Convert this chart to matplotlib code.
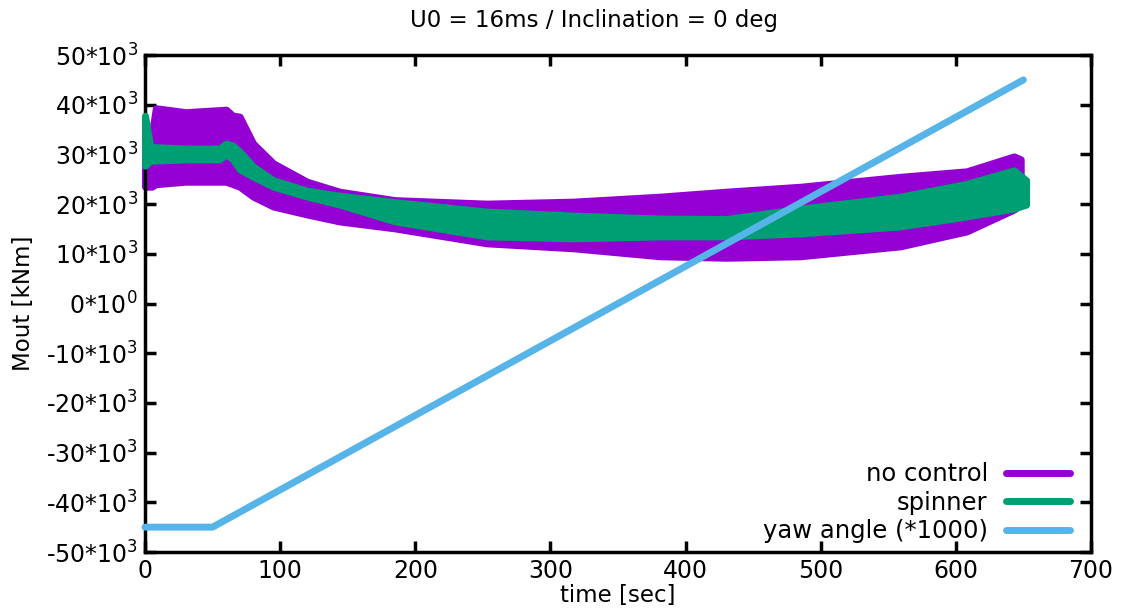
import matplotlib
matplotlib.use("Agg")
import matplotlib.pyplot as plt
import numpy as np

# ==========================================
# DATA (bands given as upper/lower envelopes, kNm/1000)
# ==========================================
t_nc = [0, 5, 8, 30, 60, 65, 70, 80, 95, 120, 144, 185, 253, 317, 381, 430, 485, 559, 608, 643, 648]
nc_hi = [34.5, 34.0, 39.3, 38.5, 39.0, 37.8, 37.6, 32.2, 28.2, 24.5, 22.5, 20.8, 20.1, 20.5, 21.5, 22.5, 23.5, 25.5, 26.6, 29.6, 29.0]
nc_lo = [23.5, 23.5, 24.0, 24.5, 24.5, 24.0, 23.5, 21.5, 19.5, 17.9, 16.5, 15.1, 12.1, 11.1, 9.5, 9.2, 9.5, 11.5, 14.5, 18.9, 20.0]

t_sp = [0, 4, 30, 55, 60, 65, 70, 80, 95, 120, 144, 185, 253, 317, 381, 430, 485, 559, 608, 643, 652]
sp_hi = [37.8, 31.5, 31.2, 31.2, 32.2, 31.8, 30.6, 27.6, 24.8, 22.7, 21.7, 20.4, 18.5, 17.7, 17.1, 17.0, 19.1, 21.5, 24.1, 26.8, 24.8]
sp_lo = [27.7, 28.7, 29.0, 29.0, 30.0, 29.0, 27.0, 25.5, 23.5, 21.5, 19.9, 16.5, 13.5, 13.1, 13.5, 13.5, 14.1, 15.5, 17.5, 19.1, 19.9]

t_yaw = [0, 50, 650]
yaw = [-45, -45, 45]   # yaw angle *1000

yticks = [-50, -40, -30, -20, -10, 0, 10, 20, 30, 40, 50]
xticks = [0, 100, 200, 300, 400, 500, 600, 700]

c_nc = '#9400D3'
c_sp = '#009E73'
c_yaw = '#56B4E9'

plt.rcParams['font.family'] = 'DejaVu Sans'
plt.rcParams['mathtext.default'] = 'regular'

fig = plt.figure(figsize=(11.22, 6.10), dpi=100)
ax = fig.add_axes([145/1122, 1 - 552/610, (1091-145)/1122, (552-55)/610])

s = 1000
ax.fill_between(np.array(t_nc), np.array(nc_lo)*s, np.array(nc_hi)*s, facecolor=c_nc,
                edgecolor=c_nc, linewidth=5, joinstyle='round', capstyle='round', clip_on=False, zorder=2)
ax.fill_between(np.array(t_sp), np.array(sp_lo)*s, np.array(sp_hi)*s, facecolor=c_sp,
                edgecolor=c_sp, linewidth=5, joinstyle='round', capstyle='round', clip_on=False, zorder=3)
ax.plot(t_yaw, np.array(yaw)*s, color=c_yaw, linewidth=5, solid_capstyle='round', clip_on=False, zorder=4)

# legend handles
ax.plot([], [], color=c_nc, lw=5, solid_capstyle='round', label='no control')
ax.plot([], [], color=c_sp, lw=5, solid_capstyle='round', label='spinner')
ax.plot([], [], color=c_yaw, lw=5, solid_capstyle='round', label='yaw angle (*1000)')
ax.legend(loc='lower right', bbox_to_anchor=(0.978, 0.018), frameon=False, markerfirst=False,
          fontsize=17.5, handlelength=2.63, labelspacing=0.18, borderaxespad=0, borderpad=0,
          handletextpad=0.76)

ax.set_xlim(0, 700)
ax.set_ylim(-50000, 50000)
ax.set_xticks(xticks)
ax.set_xticklabels([str(v) for v in xticks])
ax.set_yticks([v*s for v in yticks])
ax.set_yticklabels([('0*10$^0$' if v == 0 else f'{v}*10$^3$') for v in yticks])
ax.tick_params(direction='in', length=8, width=2.5, labelsize=17, top=True, right=True, pad=5)
for sp in ax.spines.values():
    sp.set_linewidth(2.5)

ax.set_xlabel('time [sec]', fontsize=16.5, labelpad=1)
ax.set_ylabel('Mout [kNm]', fontsize=16.5, labelpad=8)
fig.text(594/1122, 1 - 21/610, 'U0 = 16ms / Inclination = 0 deg', ha='center', va='center', fontsize=16.5)

plt.savefig('out.png', dpi=100)
plt.close()
